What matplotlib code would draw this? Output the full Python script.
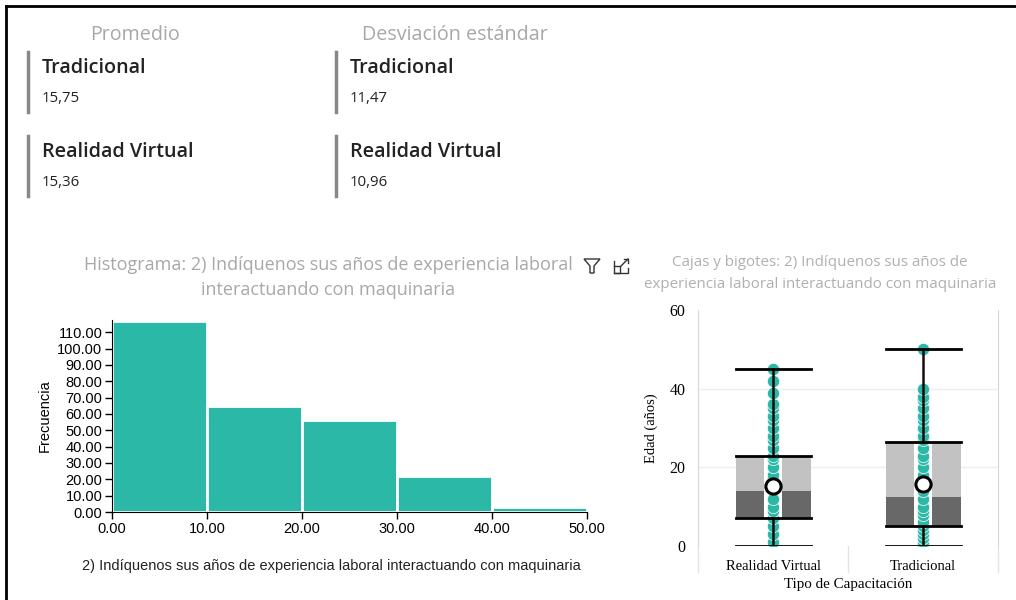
import numpy as np
import matplotlib.pyplot as plt
from matplotlib.lines import Line2D
from matplotlib.patches import Polygon, Rectangle

# KPI cards
kpi_groups = ["Tradicional", "Realidad Virtual"]
kpi_mean = ["15,75", "15,36"]
kpi_std = ["11,47", "10,96"]

# Histogram
bin_edges = [0, 10, 20, 30, 40, 50]
hist_counts = [117, 65, 56, 22, 3]
hist_yticks = list(range(0, 111, 10))

# Box plot (whisker low, Q1, median, Q3, whisker high, mean)
box_cats = ["Realidad Virtual", "Tradicional"]
box_low = [0, 0]
box_q1 = [7, 5]
box_med = [14, 12.5]
box_q3 = [23, 26.5]
box_high = [45, 50]
box_mean = [15.36, 15.75]
points_rv = [1, 3, 5, 7, 9, 10, 12, 15, 17, 18, 20, 22, 23, 25, 27, 28, 30, 32, 33, 35, 36, 39, 42, 45]
points_trad = [0, 1, 2, 3, 4, 5, 6, 8, 9, 10, 12, 14, 15, 16, 17, 18, 20, 22, 23, 25, 27, 28,
               30, 32, 33, 35, 37, 38, 40, 50]

teal = "#2bb8a6"
W, H = 1016, 600
fig = plt.figure(figsize=(W / 100, H / 100), dpi=100)

def fx(x):
    return x / W

def fy(y):
    return 1 - y / H

ui = ["Open Sans", "DejaVu Sans"]

# outer frame (top + left)
fig.add_artist(Line2D([fx(6), 1], [fy(6), fy(6)], color="black", lw=2))
fig.add_artist(Line2D([fx(6), fx(6)], [fy(6), 0], color="black", lw=2))

# KPI cards
for col, (head, vals, x0) in enumerate([("Promedio", kpi_mean, 28), ("Desviación estándar", kpi_std, 336)]):
    cx = 135 if col == 0 else 455
    fig.text(fx(cx), fy(35), head, ha="center", va="center", fontsize=14.2, color="#a8a8a8", family=ui)
    for i, (g, v) in enumerate(zip(kpi_groups, vals)):
        y0 = 52 + i * 84
        fig.add_artist(Line2D([fx(x0), fx(x0)], [fy(y0), fy(y0 + 60)], color="#888888", lw=2.5))
        fig.text(fx(x0 + 14), fy(y0 + 16), g, ha="left", va="center", fontsize=14.2,
                 color="#222222", family=ui, weight="semibold")
        fig.text(fx(x0 + 14), fy(y0 + 46), v, ha="left", va="center", fontsize=10.8,
                 color="#222222", family=ui)

# Histogram
ax = fig.add_axes([fx(112), fy(512), fx(587) - fx(112), fy(320) - fy(512)])
ax.bar(bin_edges[:-1], hist_counts, width=10, align="edge", color=teal,
       edgecolor="white", linewidth=2)
ax.set_xlim(0, 50)
ax.set_ylim(0, 117.5)
ax.set_xticks(bin_edges)
ax.set_yticks(hist_yticks)
ax.set_xticklabels([f"{v:.2f}" for v in bin_edges], family="Liberation Sans", fontsize=10.5)
ax.set_yticklabels([f"{v:.2f}" for v in hist_yticks], family="Liberation Sans", fontsize=10.5)
ax.tick_params(length=5, width=1, pad=2)
for s in ["top", "right"]:
    ax.spines[s].set_visible(False)
ax.set_ylabel("Frecuencia", family="Liberation Sans", fontsize=10.5, labelpad=4)
fig.text(fx(331), fy(566), "2) Indíquenos sus años de experiencia laboral interactuando con maquinaria",
         ha="center", va="center", family="Liberation Sans", fontsize=10.5, color="#222222")
fig.text(fx(328), fy(265), "Histograma: 2) Indíquenos sus años de experiencia laboral",
         ha="center", va="center", fontsize=13, color="#a8a8a8", family=ui)
fig.text(fx(328), fy(290), "interactuando con maquinaria",
         ha="center", va="center", fontsize=13, color="#a8a8a8", family=ui)

# funnel + expand icons
fig.add_artist(Polygon([[fx(584), fy(259)], [fx(600), fy(259)], [fx(594), fy(266)],
                        [fx(594), fy(273)], [fx(590), fy(273)], [fx(590), fy(266)]],
                       closed=True, fill=False, edgecolor="#333333", lw=1))
fig.add_artist(Line2D([fx(614), fx(614), fx(628), fx(628)], [fy(261), fy(273), fy(273), fy(268)],
                      color="#333333", lw=1))
fig.add_artist(Line2D([fx(614), fx(620), fx(620), fx(614)], [fy(266), fy(266), fy(273), fy(273)],
                      color="#333333", lw=1))
fig.add_artist(Line2D([fx(621), fx(628)], [fy(266), fy(259)], color="#333333", lw=1))
fig.add_artist(Line2D([fx(624), fx(628), fx(628)], [fy(259), fy(259), fy(263)], color="#333333", lw=1))

# Box plot
bx = fig.add_axes([fx(698), fy(546), fx(998) - fx(698), fy(310) - fy(546)])
bx.set_xlim(-0.5, 1.5)
bx.set_ylim(0, 60)
for yv in [20, 40]:
    bx.axhline(yv, color="#eeeeee", lw=1, zorder=0)
bx.spines["top"].set_visible(False)
bx.spines["bottom"].set_visible(False)
for s in ["left", "right"]:
    bx.spines[s].set_color("#d8d8d8")
for xa in [0, 0.5, 1]:
    bx.add_line(Line2D([xa, xa], [0, -0.11], transform=bx.transAxes, color="#e4e4e4",
                       lw=1, clip_on=False))
bw = 0.5
strip = 0.12
for i, pts in enumerate([points_rv, points_trad]):
    bx.add_patch(Rectangle((i - bw / 2, box_med[i]), bw, box_q3[i] - box_med[i],
                           facecolor="#c2c2c2", edgecolor="none", zorder=1))
    bx.add_patch(Rectangle((i - bw / 2, box_q1[i]), bw, box_med[i] - box_q1[i],
                           facecolor="#686868", edgecolor="none", zorder=1))
    bx.add_patch(Rectangle((i - strip / 2, box_q1[i]), strip, box_q3[i] - box_q1[i],
                           facecolor="white", edgecolor="none", zorder=1.5))
    for yv in [box_low[i], box_q1[i], box_q3[i], box_high[i]]:
        bx.plot([i - bw / 2, i + bw / 2], [yv, yv], color="black", lw=2, zorder=4)
    bx.scatter([i] * len(pts), pts, s=78, color=teal, edgecolor="white", linewidth=0.5, zorder=3)
    bx.plot([i, i], [box_low[i], box_q1[i]], color="#1a0a0a", lw=1.8, zorder=3.5)
    bx.plot([i, i], [box_q3[i], box_high[i]], color="#1a0a0a", lw=1.8, zorder=3.5)
    bx.scatter([i], [box_mean[i]], s=120, facecolor="white", edgecolor="black", linewidth=2.2, zorder=5)
bx.set_yticks([0, 20, 40, 60])
bx.set_yticklabels(["0", "20", "40", "60"], family="Liberation Serif", fontsize=11.5)
bx.set_xticks([0, 1])
bx.set_xticklabels(box_cats, family="Liberation Serif", fontsize=10.5)
bx.tick_params(axis="y", length=0, pad=9)
bx.tick_params(axis="x", length=0, pad=10)
bx.set_ylabel("Edad (años)", family="Liberation Serif", fontsize=10.5, labelpad=8)
bx.set_xlabel("Tipo de Capacitación", family="Liberation Serif", fontsize=10.8, labelpad=4)
fig.text(fx(820), fy(263), "Cajas y bigotes: 2) Indíquenos sus años de",
         ha="center", va="center", fontsize=10.9, color="#b0b0b0", family=ui)
fig.text(fx(820), fy(284), "experiencia laboral interactuando con maquinaria",
         ha="center", va="center", fontsize=10.9, color="#b0b0b0", family=ui)

fig.savefig("out.png", dpi=100)
